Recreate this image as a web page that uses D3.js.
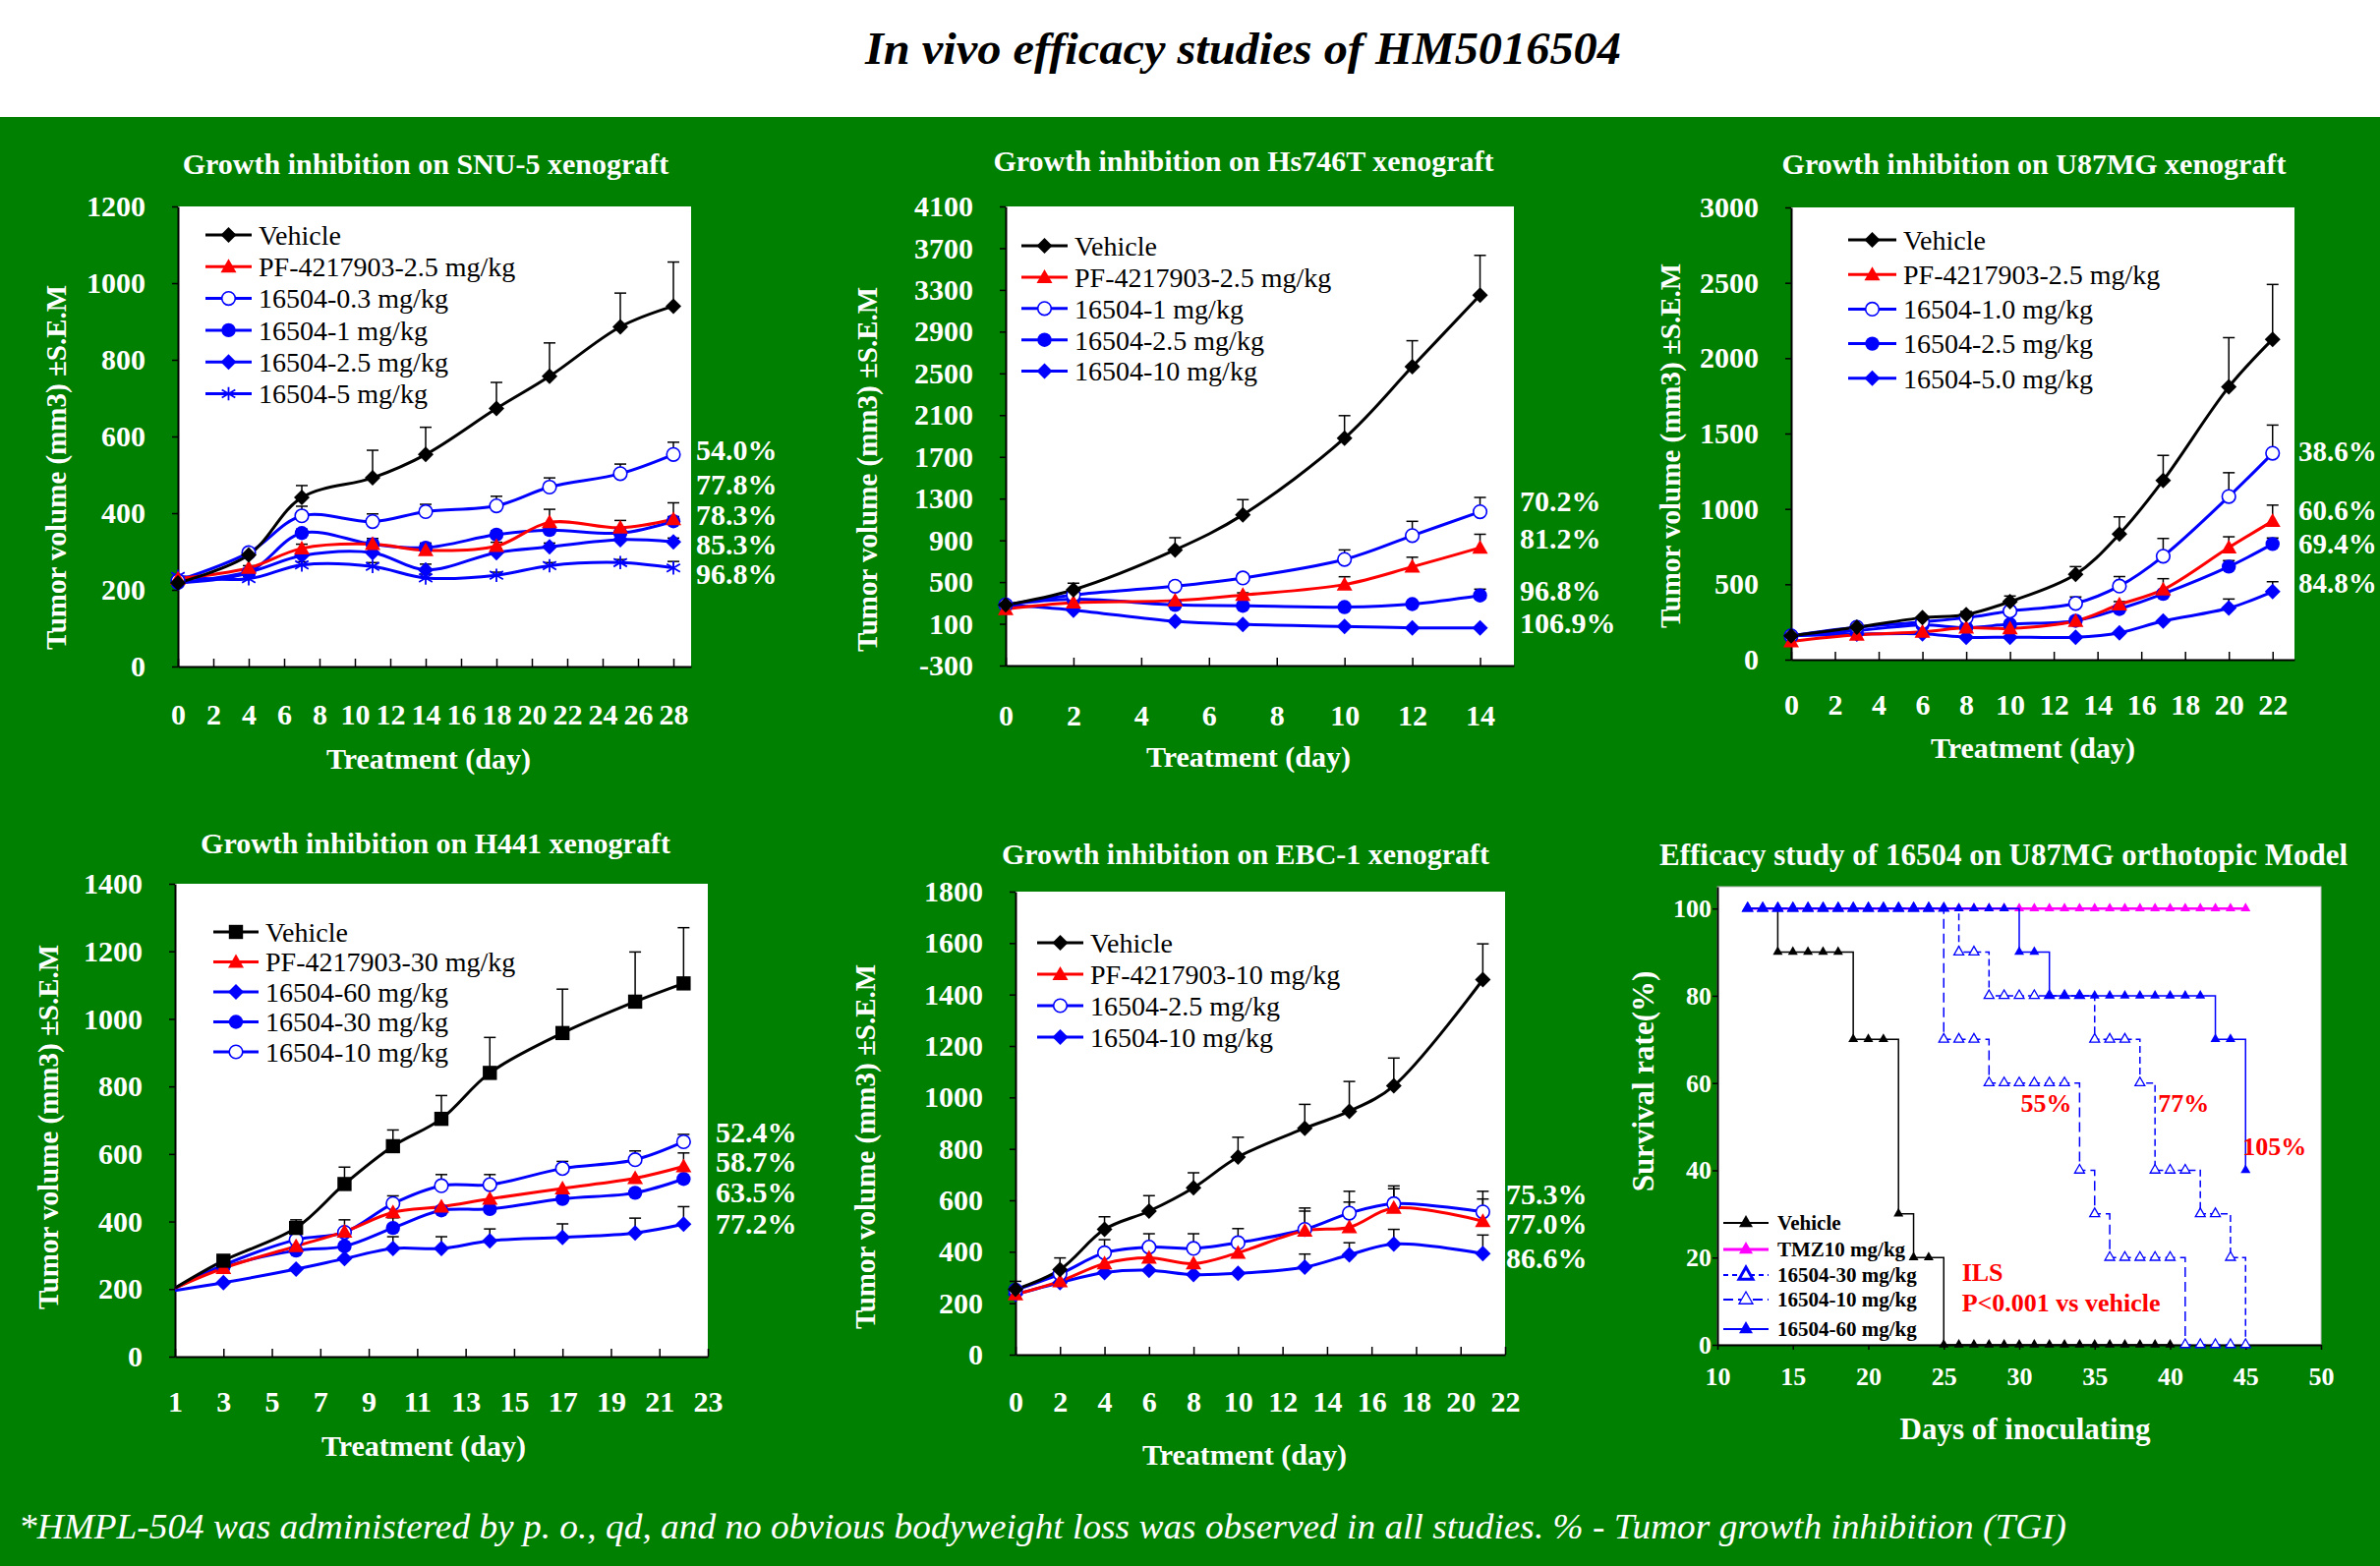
<!DOCTYPE html>
<html>
<head>
<meta charset="utf-8">
<script src="https://cdn.jsdelivr.net/npm/d3@7"></script>
<style>
  body { margin: 0; background: #fff; }
  svg { display: block; }
</style>
</head>
<body>
<svg id="chart" width="2421" height="1593"></svg>
<script>
// ---------- data ----------

// SNU-5
const snuDays = [0, 4, 7, 11, 14, 18, 21, 25, 28];
const snuNames = ["Vehicle", "PF-4217903-2.5 mg/kg", "16504-0.3 mg/kg", "16504-1 mg/kg", "16504-2.5 mg/kg", "16504-5 mg/kg"];
const snuVehicle = [218, 291, 441, 492, 553, 673, 757, 886, 940];
const snuVehicleSem = [8, 11, 31, 72, 71, 68, 87, 88, 115];
const snuPF = [229, 257, 308, 319, 303, 314, 376, 362, 384];
const snuPFSem = [0, 6, 11, 10, 12, 10, 34, 19, 43];
const snu03 = [224, 297, 393, 378, 404, 419, 468, 503, 553];
const snu03Sem = [0, 6, 25, 20, 19, 25, 24, 25, 32];
const snu1 = [218, 246, 348, 319, 310, 344, 356, 348, 379];
const snu1Sem = [0, 5, 10, 15, 12, 10, 10, 12, 12];
const snu25 = [218, 246, 289, 297, 252, 297, 312, 331, 325];
const snu25Sem = [0, 5, 8, 10, 15, 10, 10, 10, 10];
const snu5 = [235, 229, 265, 261, 231, 238, 263, 271, 257];
const snu5Sem = [0, 5, 8, 10, 10, 8, 8, 8, 17];
const snuTGI = ["54.0%", "77.8%", "78.3%", "85.3%", "96.8%"];
const snuXTicks = [0, 2, 4, 6, 8, 10, 12, 14, 16, 18, 20, 22, 24, 26, 28];
const snuYTicks = [0, 200, 400, 600, 800, 1000, 1200];

// Hs746T
const hsDays = [0, 2, 5, 7, 10, 12, 14];
const hsNames = ["Vehicle", "PF-4217903-2.5 mg/kg", "16504-1 mg/kg", "16504-2.5 mg/kg", "16504-10 mg/kg"];
const hsVehicle = [281, 426, 808, 1145, 1879, 2564, 3249];
const hsVehicleSem = [0, 63, 117, 145, 216, 249, 382];
const hsPF = [240, 302, 323, 377, 476, 646, 829];
const hsPFSem = [0, 0, 0, 20, 75, 92, 129];
const hs1 = [281, 377, 460, 539, 717, 945, 1174];
const hs1Sem = [0, 0, 40, 40, 91, 137, 137];
const hs25 = [281, 335, 281, 273, 260, 289, 372];
const hs25Sem = [0, 0, 0, 0, 0, 0, 60];
const hs10 = [281, 231, 123, 94, 74, 61, 61];
const hs10Sem = [0, 0, 0, 0, 0, 0, 0];
const hsTGI = ["70.2%", "81.2%", "96.8%", "106.9%"];
const hsXTicks = [0, 2, 4, 6, 8, 10, 12, 14];
const hsYTicks = [-300, 100, 500, 900, 1300, 1700, 2100, 2500, 2900, 3300, 3700, 4100];

// U87MG
const u87Days = [0, 3, 6, 8, 10, 13, 15, 17, 20, 22];
const u87Names = ["Vehicle", "PF-4217903-2.5 mg/kg", "16504-1.0 mg/kg", "16504-2.5 mg/kg", "16504-5.0 mg/kg"];
const u87Vehicle = [158, 215, 278, 299, 385, 566, 833, 1189, 1809, 2125];
const u87VehicleSem = [0, 0, 0, 20, 37, 51, 114, 166, 327, 364];
const u87PF = [121, 164, 184, 212, 207, 256, 365, 465, 744, 919];
const u87PFSem = [0, 0, 0, 0, 0, 10, 20, 72, 71, 106];
const u8710 = [158, 215, 250, 278, 322, 373, 488, 686, 1082, 1369];
const u8710Sem = [0, 0, 0, 0, 0, 43, 63, 118, 158, 187];
const u8725 = [158, 192, 230, 212, 235, 258, 336, 436, 617, 767];
const u8725Sem = [0, 0, 0, 0, 0, 0, 0, 20, 40, 40];
const u8750 = [158, 169, 172, 149, 149, 149, 178, 256, 342, 451];
const u8750Sem = [0, 0, 0, 0, 0, 0, 0, 0, 60, 66];
const u87TGI = ["38.6%", "60.6%", "69.4%", "84.8%"];
const u87XTicks = [0, 2, 4, 6, 8, 10, 12, 14, 16, 18, 20, 22];
const u87YTicks = [0, 500, 1000, 1500, 2000, 2500, 3000];

// H441
const h441Days = [1, 3, 6, 8, 10, 12, 14, 17, 20, 22];
const h441Names = ["Vehicle", "PF-4217903-30 mg/kg", "16504-60 mg/kg", "16504-30 mg/kg", "16504-10 mg/kg"];
const h441Vehicle = [203, 284, 381, 511, 623, 704, 840, 958, 1051, 1105];
const h441VehicleSem = [0, 10, 24, 50, 48, 69, 105, 130, 147, 165];
const h441PF = [203, 262, 327, 370, 427, 444, 467, 498, 528, 563];
const h441PFSem = [0, 0, 0, 35, 0, 0, 0, 0, 0, 40];
const h44160 = [196, 219, 259, 290, 320, 320, 343, 353, 366, 392];
const h44160Sem = [0, 0, 0, 0, 35, 35, 35, 40, 44, 52];
const h44130 = [203, 265, 314, 327, 381, 433, 437, 467, 485, 526];
const h44130Sem = [0, 0, 30, 40, 30, 0, 0, 0, 0, 0];
const h44110 = [203, 271, 346, 368, 453, 506, 509, 557, 583, 636];
const h44110Sem = [0, 0, 0, 0, 23, 33, 30, 21, 26, 22];
const h441TGI = ["52.4%", "58.7%", "63.5%", "77.2%"];
const h441XTicks = [1, 3, 5, 7, 9, 11, 13, 15, 17, 19, 21, 23];
const h441YTicks = [0, 200, 400, 600, 800, 1000, 1200, 1400];

// EBC-1
const ebcDays = [0, 2, 4, 6, 8, 10, 13, 15, 17, 21];
const ebcNames = ["Vehicle", "PF-4217903-10 mg/kg", "16504-2.5 mg/kg", "16504-10 mg/kg"];
const ebcVehicle = [254, 331, 487, 558, 649, 768, 880, 946, 1045, 1458];
const ebcVehicleSem = [31, 45, 49, 60, 58, 77, 93, 116, 108, 139];
const ebcPF = [234, 285, 354, 376, 354, 396, 482, 495, 570, 519];
const ebcPFSem = [0, 0, 0, 0, 0, 0, 76, 98, 75, 86];
const ebc25 = [251, 314, 396, 418, 413, 435, 487, 550, 587, 555];
const ebc25Sem = [0, 0, 51, 52, 57, 55, 83, 85, 69, 80];
const ebc10 = [234, 280, 319, 328, 311, 316, 340, 388, 430, 393];
const ebc10Sem = [0, 0, 0, 0, 0, 0, 51, 47, 57, 72];
const ebcTGI = ["75.3%", "77.0%", "86.6%"];
const ebcXTicks = [0, 2, 4, 6, 8, 10, 12, 14, 16, 18, 20, 22];
const ebcYTicks = [0, 200, 400, 600, 800, 1000, 1200, 1400, 1600, 1800];

// U87MG orthotopic survival (Kaplan-Meier style steps)
const survNames = ["Vehicle", "TMZ10 mg/kg", "16504-30 mg/kg", "16504-10 mg/kg", "16504-60 mg/kg"];
const survVehicleDays = [12, 13, 14, 14, 15, 16, 17, 18, 19, 20, 21, 22, 23, 24, 25, 26, 27, 28, 29, 30, 31, 32, 33, 34, 35, 36, 37, 38, 39, 40];
const survVehicle = [100, 100, 100, 90, 90, 90, 90, 90, 70, 70, 70, 30, 20, 20, 0, 0, 0, 0, 0, 0, 0, 0, 0, 0, 0, 0, 0, 0, 0, 0];
const survTmzDays = [12, 13, 14, 15, 16, 17, 18, 19, 20, 21, 22, 23, 24, 25, 26, 27, 28, 29, 30, 31, 32, 33, 34, 35, 36, 37, 38, 39, 40, 41, 42, 43, 44, 45];
const survTmz = [100, 100, 100, 100, 100, 100, 100, 100, 100, 100, 100, 100, 100, 100, 100, 100, 100, 100, 100, 100, 100, 100, 100, 100, 100, 100, 100, 100, 100, 100, 100, 100, 100, 100];
const surv30Days = [12, 13, 14, 15, 16, 17, 18, 19, 20, 21, 22, 23, 24, 25, 26, 27, 28, 29, 30, 31, 32, 33, 34, 35, 36, 37, 38, 39, 40, 41, 42, 43, 44, 45];
const surv30 = [100, 100, 100, 100, 100, 100, 100, 100, 100, 100, 100, 100, 100, 100, 90, 90, 80, 80, 80, 80, 80, 80, 80, 70, 70, 70, 60, 40, 40, 40, 30, 30, 20, 0];
const surv10Days = [12, 13, 14, 15, 16, 17, 18, 19, 20, 21, 22, 23, 24, 25, 26, 27, 28, 29, 30, 31, 32, 33, 34, 35, 36, 37, 38, 39, 40, 41, 42, 43, 44];
const surv10 = [100, 100, 100, 100, 100, 100, 100, 100, 100, 100, 100, 100, 100, 70, 70, 70, 60, 60, 60, 60, 60, 60, 40, 30, 20, 20, 20, 20, 20, 0, 0, 0, 0];
const surv60Days = [12, 13, 14, 15, 16, 17, 18, 19, 20, 21, 22, 23, 24, 25, 26, 27, 28, 29, 30, 31, 32, 33, 34, 35, 36, 37, 38, 39, 40, 41, 42, 43, 44, 45];
const surv60 = [100, 100, 100, 100, 100, 100, 100, 100, 100, 100, 100, 100, 100, 100, 100, 100, 100, 100, 90, 90, 80, 80, 80, 80, 80, 80, 80, 80, 80, 80, 80, 70, 70, 40];
const survILS = ["55%", "77%", "105%"];
const survXTicks = [10, 15, 20, 25, 30, 35, 40, 45, 50];
const survYTicks = [0, 20, 40, 60, 80, 100];

// ---------- drawing ----------
const FONT = '"Liberation Serif", "Times New Roman", Times, serif';
const GREEN = '#008000';
const svg = d3.select('#chart').attr('font-family', FONT);

svg.append('rect').attr('x', 0).attr('y', 119).attr('width', 2421).attr('height', 1474).attr('fill', GREEN);

svg.append('text')
  .attr('x', 880).attr('y', 65)
  .attr('textLength', 769).attr('lengthAdjust', 'spacingAndGlyphs')
  .attr('font-size', 46).attr('font-weight', 'bold').attr('font-style', 'italic')
  .attr('fill', '#000')
  .text('In vivo efficacy studies of HM5016504');

svg.append('text')
  .attr('x', 19).attr('y', 1565)
  .attr('textLength', 2083).attr('lengthAdjust', 'spacingAndGlyphs')
  .attr('font-size', 35).attr('font-style', 'italic')
  .attr('fill', '#fff')
  .text('*HMPL-504 was administered by p. o., qd, and no obvious bodyweight loss was observed in all studies. % - Tumor growth inhibition (TGI)');

// draws one marker symbol centred on (cx, cy)
function marker(sel, type, cx, cy, color, r) {
  if (type === 'diamond') {
    sel.append('path').attr('d', `M${cx},${cy - r}L${cx + r},${cy}L${cx},${cy + r}L${cx - r},${cy}Z`).attr('fill', color);
  } else if (type === 'triangle' || type === 'otriangle') {
    const p = sel.append('path').attr('d', `M${cx},${cy - r}L${cx + r},${cy + r * 0.75}L${cx - r},${cy + r * 0.75}Z`);
    if (type === 'triangle') p.attr('fill', color);
    else p.attr('fill', '#fff').attr('stroke', color).attr('stroke-width', 1.3);
  } else if (type === 'circle') {
    sel.append('circle').attr('cx', cx).attr('cy', cy).attr('r', r * 0.9).attr('fill', color);
  } else if (type === 'ocircle') {
    sel.append('circle').attr('cx', cx).attr('cy', cy).attr('r', r * 0.85).attr('fill', '#fff').attr('stroke', color).attr('stroke-width', 1.6);
  } else if (type === 'square') {
    sel.append('rect').attr('x', cx - r * 0.9).attr('y', cy - r * 0.9).attr('width', r * 1.8).attr('height', r * 1.8).attr('fill', color);
  } else if (type === 'star') {
    const s = r * 0.85;
    sel.append('path')
      .attr('d', `M${cx},${cy - s}L${cx},${cy + s}M${cx - s},${cy - s * 0.6}L${cx + s},${cy + s * 0.6}M${cx - s},${cy + s * 0.6}L${cx + s},${cy - s * 0.6}`)
      .attr('stroke', color).attr('stroke-width', 1.8).attr('fill', 'none');
  }
}

function styleAxis(ax, size) {
  ax.attr('font-family', FONT).attr('font-size', size).attr('font-weight', 'bold').attr('color', '#000');
  ax.select('.domain').attr('stroke-width', 2);
  ax.selectAll('.tick line').attr('stroke-width', 1.5);
  ax.selectAll('.tick text').attr('fill', '#fff');
}

function growthPanel(p) {
  const [x0, x1, y0, y1] = p.box;
  const x = d3.scaleLinear().domain(p.xDomain).range([x0, x1]);
  const y = d3.scaleLinear().domain(p.yDomain).range([y1, y0]);
  const g = svg.append('g');

  g.append('rect').attr('x', x0).attr('y', y0).attr('width', x1 - x0).attr('height', y1 - y0).attr('fill', '#fff');

  g.append('text').attr('x', p.titleX).attr('y', p.titleY).attr('dy', '0.35em')
    .attr('text-anchor', 'middle').attr('font-size', 30).attr('font-weight', 'bold').attr('fill', '#fff')
    .text(p.title);

  const xa = g.append('g').attr('transform', `translate(0,${y1})`)
    .call(d3.axisBottom(x).tickValues(p.xTicks).tickFormat(d => String(d)).tickSizeInner(-8).tickSizeOuter(0));
  styleAxis(xa, 30);
  xa.selectAll('.tick text').attr('y', p.xLabelY - y1).attr('dy', '0.35em');

  const ya = g.append('g').attr('transform', `translate(${x0},0)`)
    .call(d3.axisLeft(y).tickValues(p.yTicks).tickFormat(d => String(d)).tickSizeInner(6).tickSizeOuter(0).tickPadding(27));
  styleAxis(ya, 30);

  g.append('text').attr('x', p.xTitleX).attr('y', p.xTitleY).attr('dy', '0.35em')
    .attr('text-anchor', 'middle').attr('font-size', 30).attr('font-weight', 'bold').attr('fill', '#fff')
    .text('Treatment (day)');

  g.append('text')
    .attr('transform', `translate(${p.yTitleX},${p.yTitleStart}) rotate(-90)`)
    .attr('dy', '0.35em').attr('font-size', 29).attr('font-weight', 'bold').attr('fill', '#fff')
    .text('Tumor volume (mm3) \u00b1S.E.M');

  // error bars (upper only), then lines, then markers
  const eb = g.append('g').attr('stroke', '#000').attr('stroke-width', 1.5);
  p.series.forEach(s => {
    p.days.forEach((d, i) => {
      if (!s.sem[i]) return;
      const cx = x(d), top = y(s.mean[i] + s.sem[i]);
      eb.append('line').attr('x1', cx).attr('x2', cx).attr('y1', y(s.mean[i])).attr('y2', top);
      eb.append('line').attr('x1', cx - 6).attr('x2', cx + 6).attr('y1', top).attr('y2', top);
    });
  });

  const line = d3.line().x((d, i) => x(p.days[i])).y(d => y(d)).curve(d3.curveCatmullRom);
  p.series.slice().reverse().forEach(s => {
    g.append('path').attr('d', line(s.mean)).attr('fill', 'none')
      .attr('stroke', s.color).attr('stroke-width', 3);
  });
  p.series.slice().reverse().forEach(s => {
    const mg = g.append('g');
    p.days.forEach((d, i) => {
      if (p.skipFirstMarker && i === 0) return;
      marker(mg, s.marker, x(d), y(s.mean[i]), s.color, 8);
    });
  });

  // legend
  const lg = g.append('g');
  p.series.forEach((s, i) => {
    const ly = p.legend.y + i * p.legend.step;
    lg.append('line').attr('x1', p.legend.x0).attr('x2', p.legend.x1).attr('y1', ly).attr('y2', ly)
      .attr('stroke', s.color).attr('stroke-width', 3);
    marker(lg, s.marker, (p.legend.x0 + p.legend.x1) / 2, ly, s.color, 8);
    lg.append('text').attr('x', p.legend.x1 + 7).attr('y', ly).attr('dy', '0.35em')
      .attr('font-size', 28).attr('fill', '#000').text(s.name);
  });

  // TGI labels
  p.tgi.forEach((t, i) => {
    g.append('text').attr('x', p.tgiX).attr('y', y(p.tgiAt[i])).attr('dy', '0.35em')
      .attr('font-size', p.tgiSize || 30).attr('font-weight', 'bold').attr('fill', '#fff').text(t);
  });
}

const growthPanels = [
  {
    title: 'Growth inhibition on SNU-5 xenograft', titleX: 433, titleY: 166,
    box: [181, 703, 210, 678], xDomain: [0, 29], yDomain: [0, 1200],
    xTicks: snuXTicks, yTicks: snuYTicks, xLabelY: 726,
    xTitleX: 436, xTitleY: 771, yTitleX: 57, yTitleStart: 661,
    days: snuDays,
    series: [
      { name: snuNames[0], mean: snuVehicle, sem: snuVehicleSem, color: '#000', marker: 'diamond' },
      { name: snuNames[1], mean: snuPF, sem: snuPFSem, color: '#f00', marker: 'triangle' },
      { name: snuNames[2], mean: snu03, sem: snu03Sem, color: '#00f', marker: 'ocircle' },
      { name: snuNames[3], mean: snu1, sem: snu1Sem, color: '#00f', marker: 'circle' },
      { name: snuNames[4], mean: snu25, sem: snu25Sem, color: '#00f', marker: 'diamond' },
      { name: snuNames[5], mean: snu5, sem: snu5Sem, color: '#00f', marker: 'star' }
    ],
    legend: { x0: 209, x1: 256, y: 239, step: 32.3 },
    tgi: snuTGI, tgiAt: [565, 475, 395, 318, 243], tgiX: 708
  },
  {
    title: 'Growth inhibition on Hs746T xenograft', titleX: 1265, titleY: 163,
    box: [1023, 1540, 210, 677], xDomain: [0, 15], yDomain: [-300, 4100],
    xTicks: hsXTicks, yTicks: hsYTicks, xLabelY: 727,
    xTitleX: 1270, xTitleY: 769, yTitleX: 882, yTitleStart: 663,
    days: hsDays,
    series: [
      { name: hsNames[0], mean: hsVehicle, sem: hsVehicleSem, color: '#000', marker: 'diamond' },
      { name: hsNames[1], mean: hsPF, sem: hsPFSem, color: '#f00', marker: 'triangle' },
      { name: hsNames[2], mean: hs1, sem: hs1Sem, color: '#00f', marker: 'ocircle' },
      { name: hsNames[3], mean: hs25, sem: hs25Sem, color: '#00f', marker: 'circle' },
      { name: hsNames[4], mean: hs10, sem: hs10Sem, color: '#00f', marker: 'diamond' }
    ],
    legend: { x0: 1039, x1: 1086, y: 250, step: 31.9 },
    tgi: hsTGI, tgiAt: [1281, 923, 423, 111], tgiX: 1546
  },
  {
    title: 'Growth inhibition on U87MG xenograft', titleX: 2069, titleY: 166,
    box: [1822, 2334, 211, 671], xDomain: [0, 23], yDomain: [0, 3000],
    xTicks: u87XTicks, yTicks: u87YTicks, xLabelY: 716,
    xTitleX: 2068, xTitleY: 760, yTitleX: 1699, yTitleStart: 639,
    days: u87Days,
    series: [
      { name: u87Names[0], mean: u87Vehicle, sem: u87VehicleSem, color: '#000', marker: 'diamond' },
      { name: u87Names[1], mean: u87PF, sem: u87PFSem, color: '#f00', marker: 'triangle' },
      { name: u87Names[2], mean: u8710, sem: u8710Sem, color: '#00f', marker: 'ocircle' },
      { name: u87Names[3], mean: u8725, sem: u8725Sem, color: '#00f', marker: 'circle' },
      { name: u87Names[4], mean: u8750, sem: u8750Sem, color: '#00f', marker: 'diamond' }
    ],
    legend: { x0: 1880, x1: 1929, y: 244, step: 35.2 },
    tgi: u87TGI, tgiAt: [1382, 991, 769, 508], tgiX: 2338, tgiSize: 29
  },
  {
    title: 'Growth inhibition on H441 xenograft', titleX: 443, titleY: 857,
    box: [178, 720, 899, 1380], xDomain: [1, 23], yDomain: [0, 1400],
    xTicks: h441XTicks, yTicks: h441YTicks, xLabelY: 1425,
    xTitleX: 431, xTitleY: 1470, yTitleX: 49, yTitleStart: 1332,
    days: h441Days, skipFirstMarker: true,
    series: [
      { name: h441Names[0], mean: h441Vehicle, sem: h441VehicleSem, color: '#000', marker: 'square' },
      { name: h441Names[1], mean: h441PF, sem: h441PFSem, color: '#f00', marker: 'triangle' },
      { name: h441Names[2], mean: h44160, sem: h44160Sem, color: '#00f', marker: 'diamond' },
      { name: h441Names[3], mean: h44130, sem: h44130Sem, color: '#00f', marker: 'circle' },
      { name: h441Names[4], mean: h44110, sem: h44110Sem, color: '#00f', marker: 'ocircle' }
    ],
    legend: { x0: 217, x1: 263, y: 948, step: 30.5 },
    tgi: h441TGI, tgiAt: [665, 577, 487, 393], tgiX: 728
  },
  {
    title: 'Growth inhibition on EBC-1 xenograft', titleX: 1267, titleY: 868,
    box: [1033, 1531, 907, 1378], xDomain: [0, 22], yDomain: [0, 1800],
    xTicks: ebcXTicks, yTicks: ebcYTicks, xLabelY: 1425,
    xTitleX: 1266, xTitleY: 1479, yTitleX: 880, yTitleStart: 1352,
    days: ebcDays,
    series: [
      { name: ebcNames[0], mean: ebcVehicle, sem: ebcVehicleSem, color: '#000', marker: 'diamond' },
      { name: ebcNames[1], mean: ebcPF, sem: ebcPFSem, color: '#f00', marker: 'triangle' },
      { name: ebcNames[2], mean: ebc25, sem: ebc25Sem, color: '#00f', marker: 'ocircle' },
      { name: ebcNames[3], mean: ebc10, sem: ebc10Sem, color: '#00f', marker: 'diamond' }
    ],
    legend: { x0: 1055, x1: 1102, y: 959, step: 32 },
    tgi: ebcTGI, tgiAt: [625, 512, 378], tgiX: 1532
  }
];

growthPanels.forEach(growthPanel);

// ---------- survival panel ----------
(function survivalPanel() {
  const box = [1747, 2361, 902, 1368];
  const x = d3.scaleLinear().domain([10, 50]).range([box[0], box[1]]);
  const y = d3.scaleLinear().domain([0, 105]).range([box[3], box[2]]);
  const g = svg.append('g');

  g.append('rect').attr('x', box[0]).attr('y', box[2]).attr('width', box[1] - box[0]).attr('height', box[3] - box[2])
    .attr('fill', '#fff').attr('stroke', '#bbb').attr('stroke-width', 1);

  g.append('text').attr('x', 2038).attr('y', 869).attr('dy', '0.35em').attr('text-anchor', 'middle')
    .attr('font-size', 31).attr('font-weight', 'bold').attr('fill', '#fff')
    .text('Efficacy study of 16504 on U87MG orthotopic Model');

  const xa = g.append('g').attr('transform', `translate(0,${box[3]})`)
    .call(d3.axisBottom(x).tickValues(survXTicks).tickFormat(d => String(d)).tickSizeInner(5).tickSizeOuter(0));
  styleAxis(xa, 26);
  xa.selectAll('.tick text').attr('y', 32).attr('dy', '0.35em');

  const ya = g.append('g').attr('transform', `translate(${box[0]},0)`)
    .call(d3.axisLeft(y).tickValues(survYTicks).tickFormat(d => String(d)).tickSizeInner(5).tickSizeOuter(0).tickPadding(1));
  styleAxis(ya, 26);

  g.append('text').attr('x', 2060).attr('y', 1453).attr('dy', '0.35em').attr('text-anchor', 'middle')
    .attr('font-size', 31).attr('font-weight', 'bold').attr('fill', '#fff').text('Days of inoculating');
  g.append('text').attr('transform', 'translate(1671,1100) rotate(-90)').attr('dy', '0.35em').attr('text-anchor', 'middle')
    .attr('font-size', 31).attr('font-weight', 'bold').attr('fill', '#fff').text('Survival rate(%)');

  const groups = [
    { days: survTmzDays, rate: survTmz, color: '#f0f', width: 2.5, dash: null, marker: 'triangle' },
    { days: survVehicleDays, rate: survVehicle, color: '#000', width: 1.5, dash: null, marker: 'triangle' },
    { days: surv10Days, rate: surv10, color: '#00f', width: 1.5, dash: '10,5', marker: 'otriangle' },
    { days: surv30Days, rate: surv30, color: '#00f', width: 1.5, dash: '7,4', marker: 'otriangle' },
    { days: surv60Days, rate: surv60, color: '#00f', width: 1.5, dash: null, marker: 'triangle' }
  ];
  const step = d3.line().x(d => x(d[0])).y(d => y(d[1])).curve(d3.curveStepAfter);
  groups.forEach(s => {
    const pts = s.days.map((d, i) => [d, s.rate[i]]);
    g.append('path').attr('d', step(pts)).attr('fill', 'none').attr('stroke', s.color)
      .attr('stroke-width', s.width).attr('stroke-dasharray', s.dash);
    const mg = g.append('g');
    pts.forEach(p => marker(mg, s.marker, x(p[0]), y(p[1]) - 1, s.color, 5));
  });

  // legend (in the original's order)
  const legendItems = [
    { name: survNames[0], color: '#000', width: 2, dash: null, marker: 'triangle', bold: false },
    { name: survNames[1], color: '#f0f', width: 3, dash: null, marker: 'triangle', bold: false },
    { name: survNames[2], color: '#00f', width: 2, dash: '5,4', marker: 'otriangle', bold: true },
    { name: survNames[3], color: '#00f', width: 2, dash: '10,5', marker: 'otriangle', bold: false },
    { name: survNames[4], color: '#00f', width: 2, dash: null, marker: 'triangle', bold: false }
  ];
  const legendY = [1244, 1271, 1297, 1322, 1352];
  legendItems.forEach((s, i) => {
    const ly = legendY[i];
    g.append('line').attr('x1', 1753).attr('x2', 1799).attr('y1', ly).attr('y2', ly)
      .attr('stroke', s.color).attr('stroke-width', s.width).attr('stroke-dasharray', s.dash);
    const mg = g.append('g');
    marker(mg, s.marker, 1776, ly - 1, s.color, 7);
    if (s.bold) mg.select('path').attr('stroke-width', 3);
    g.append('text').attr('x', 1808).attr('y', ly).attr('dy', '0.35em')
      .attr('font-size', 21).attr('font-weight', 'bold').attr('fill', '#000').text(s.name);
  });

  // ILS annotations
  const ilsAt = [[30.1, 53.5], [39.2, 53.5], [44.8, 43.5]];
  survILS.forEach((t, i) => {
    g.append('text').attr('x', x(ilsAt[i][0])).attr('y', y(ilsAt[i][1]))
      .attr('font-size', 26).attr('font-weight', 'bold').attr('fill', '#f00').text(t);
  });
  g.append('text').attr('x', x(26.2)).attr('y', y(14.7))
    .attr('font-size', 26).attr('font-weight', 'bold').attr('fill', '#f00').text('ILS');
  g.append('text').attr('x', x(26.2)).attr('y', y(7.7))
    .attr('font-size', 26).attr('font-weight', 'bold').attr('fill', '#f00').text('P<0.001 vs vehicle');
})();
</script>
</body>
</html>
